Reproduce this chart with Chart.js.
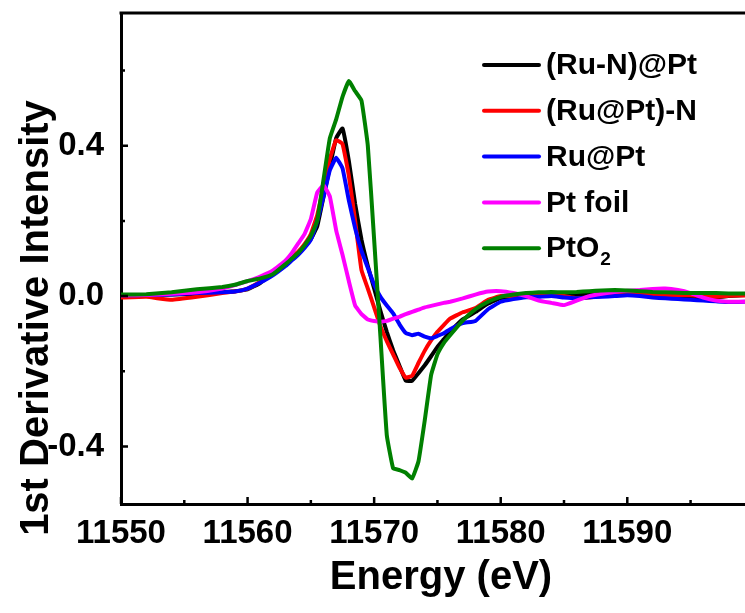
<!DOCTYPE html>
<html>
<head>
<meta charset="utf-8">
<script src="https://cdn.jsdelivr.net/npm/chart.js@4.4.1/dist/chart.umd.min.js"></script>
<style>
  html, body { margin: 0; padding: 0; background: #fff; }
  #chart-xanes { display: block; }
</style>
</head>
<body>
<canvas id="chart-xanes" width="745" height="613"></canvas>
<script>
// energía (eV), malla común para todas las curvas
const energia = [
  11550, 11552, 11554, 11556, 11558, 11559, 11560, 11561, 11562, 11563,
  11563.5, 11564, 11564.5, 11565, 11565.5, 11566, 11566.5, 11567, 11567.5, 11568,
  11568.5, 11569, 11569.5, 11570, 11570.5, 11571, 11571.5, 11572, 11572.5, 11573,
  11573.5, 11574, 11574.5, 11575, 11575.5, 11576, 11577, 11578, 11579, 11580,
  11581, 11582, 11583, 11584, 11585, 11586, 11587, 11588, 11589, 11590,
  11591, 11592, 11593, 11594, 11595, 11596, 11597, 11598, 11599.5
];
const ruNPt = [
  0.002, 0.003, 0.004, 0.006, 0.010, 0.013, 0.018, 0.035, 0.060, 0.085,
  0.100, 0.115, 0.132, 0.152, 0.185, 0.264, 0.344, 0.420, 0.446, 0.360,
  0.245, 0.150, 0.080, 0.020, -0.040, -0.095, -0.144, -0.185, -0.225, -0.225,
  -0.205, -0.184, -0.160, -0.135, -0.115, -0.095, -0.062, -0.042, -0.020, -0.005,
  -0.002, 0.000, 0.003, 0.005, 0.004, 0.003, 0.004, 0.006, 0.008, 0.010,
  0.008, 0.005, 0.003, 0.000, -0.002, -0.004, -0.003, 0.000, 0.003
];
const ruPtN = [
  -0.004, -0.002, -0.010, -0.002, 0.008, 0.012, 0.020, 0.038, 0.062, 0.088,
  0.103, 0.118, 0.138, 0.165, 0.215, 0.290, 0.365, 0.415, 0.405, 0.320,
  0.200, 0.069, 0.020, -0.030, -0.080, -0.120, -0.155, -0.190, -0.217, -0.212,
  -0.178, -0.145, -0.118, -0.095, -0.077, -0.060, -0.043, -0.032, -0.010, 0.000,
  0.000, -0.002, 0.002, 0.004, 0.000, -0.006, -0.004, 0.000, 0.004, 0.006,
  0.006, 0.004, 0.002, 0.003, 0.002, 0.000, -0.002, 0.001, 0.002
];
const ruPt = [
  0.002, 0.003, 0.004, 0.008, 0.010, 0.012, 0.020, 0.036, 0.055, 0.080,
  0.095, 0.110, 0.128, 0.150, 0.200, 0.264, 0.335, 0.368, 0.340, 0.255,
  0.180, 0.120, 0.075, 0.030, -0.002, -0.025, -0.046, -0.075, -0.098, -0.104,
  -0.100, -0.108, -0.112, -0.106, -0.099, -0.088, -0.072, -0.066, -0.035, -0.015,
  -0.008, -0.003, -0.002, 0.000, -0.004, -0.006, -0.003, -0.002, 0.000, 0.002,
  0.000, -0.004, -0.006, -0.008, -0.010, -0.012, -0.014, -0.016, -0.015
];
const ptFoil = [
  0.002, 0.003, 0.006, 0.010, 0.020, 0.029, 0.040, 0.052, 0.068, 0.095,
  0.115, 0.140, 0.165, 0.205, 0.275, 0.295, 0.265, 0.175, 0.110, 0.040,
  -0.025, -0.048, -0.062, -0.066, -0.068, -0.066, -0.060, -0.055, -0.048, -0.042,
  -0.036, -0.030, -0.026, -0.022, -0.018, -0.015, -0.006, 0.004, 0.012, 0.013,
  0.008, 0.000, -0.012, -0.018, -0.024, -0.012, 0.000, 0.006, 0.011, 0.014,
  0.016, 0.019, 0.020, 0.016, 0.008, -0.004, -0.012, -0.015, -0.015
];
const ptO2 = [
  0.004, 0.005, 0.010, 0.018, 0.024, 0.030, 0.040, 0.047, 0.058, 0.085,
  0.100, 0.115, 0.135, 0.160, 0.200, 0.310, 0.420, 0.470, 0.530, 0.572,
  0.545, 0.520, 0.400, 0.150, -0.110, -0.370, -0.458, -0.463, -0.470, -0.485,
  -0.440, -0.330, -0.210, -0.155, -0.125, -0.104, -0.065, -0.035, -0.015, -0.002,
  0.004, 0.008, 0.010, 0.011, 0.010, 0.011, 0.013, 0.015, 0.016, 0.015,
  0.013, 0.011, 0.010, 0.009, 0.008, 0.008, 0.008, 0.007, 0.007
];
const etiquetas = ["(Ru-N)@Pt", "(Ru@Pt)-N", "Ru@Pt", "Pt foil", "PtO\u2082"];
const colores = ["#000000", "#ff0000", "#0000ff", "#ff00ff", "#008000"];
const series = [ruNPt, ruPtN, ruPt, ptFoil, ptO2];
const ticksX = [11550, 11560, 11570, 11580, 11590];
const menoresX = [11555, 11565, 11575, 11585, 11595];
const ticksY = [-0.4, 0.0, 0.4];
const menoresY = [-0.2, 0.2, 0.6];

const FUENTE = '"Liberation Sans", Arial, sans-serif';

// texto con subíndice: "PtO₂" se dibuja como "PtO" + "2" más pequeño y bajado
function textoSub(ctx, txt, x, y, size) {
  const m = txt.match(/^(.*?)([\u2080-\u2089]+)$/);
  if (!m) { ctx.fillText(txt, x, y); return; }
  ctx.fillText(m[1], x, y);
  const w = ctx.measureText(m[1]).width;
  const sub = [...m[2]].map(c => String.fromCharCode(c.charCodeAt(0) - 0x2080 + 48)).join("");
  const prev = ctx.font;
  ctx.font = "bold " + Math.round(size * 0.62) + "px " + FUENTE;
  ctx.fillText(sub, x + w + 1, y + size * 0.36);
  ctx.font = prev;
}

// marco superior, marcas hacia dentro, leyenda y títulos de ejes
const decoracion = {
  id: "decoracion",
  afterDraw(chart) {
    const { ctx, chartArea: a, scales } = chart;
    const x = scales.x, y = scales.y;
    ctx.save();
    ctx.strokeStyle = "#000";
    ctx.lineWidth = 3;
    ctx.beginPath();
    ctx.moveTo(a.left - 1.5, a.top);
    ctx.lineTo(a.right, a.top);
    ctx.stroke();

    ctx.lineWidth = 2.5;
    ctx.beginPath();
    ticksX.forEach(v => { const px = x.getPixelForValue(v); ctx.moveTo(px, a.bottom); ctx.lineTo(px, a.bottom - 7); });
    menoresX.forEach(v => { const px = x.getPixelForValue(v); ctx.moveTo(px, a.bottom); ctx.lineTo(px, a.bottom - 4); });
    ticksY.forEach(v => { const py = y.getPixelForValue(v); ctx.moveTo(a.left, py); ctx.lineTo(a.left + 7, py); });
    menoresY.forEach(v => { const py = y.getPixelForValue(v); ctx.moveTo(a.left, py); ctx.lineTo(a.left + 4, py); });
    ctx.stroke();

    // leyenda
    const fs = 30;
    ctx.lineWidth = 4;
    ctx.lineCap = "round";
    ctx.textBaseline = "middle";
    ctx.textAlign = "left";
    ctx.font = "bold " + fs + "px " + FUENTE;
    chart.data.datasets.forEach((ds, i) => {
      const yy = 65 + i * 45.8;
      ctx.strokeStyle = ds.borderColor;
      ctx.beginPath();
      ctx.moveTo(484, yy);
      ctx.lineTo(539, yy);
      ctx.stroke();
      ctx.fillStyle = "#000";
      textoSub(ctx, ds.label, 546, yy + 1, fs);
    });

    // títulos
    ctx.fillStyle = "#000";
    ctx.font = "bold 40px " + FUENTE;
    ctx.textAlign = "center";
    ctx.fillText("Energy (eV)", 441, 578);
    ctx.translate(37, 318);
    ctx.rotate(-Math.PI / 2);
    ctx.fillText("1st Derivative Intensity", 0, 0);
    ctx.restore();
  }
};

const ctx = document.getElementById("chart-xanes").getContext("2d");
new Chart(ctx, {
  type: "line",
  data: {
    datasets: series.map((s, i) => ({
      label: etiquetas[i],
      data: s.map((v, k) => ({ x: energia[k], y: v })),
      borderColor: colores[i],
      borderWidth: 4,
      pointRadius: 0,
      tension: 0.1,
      fill: false,
      order: 5 - i
    }))
  },
  options: {
    responsive: false,
    animation: false,
    layout: { padding: { top: 13, left: 0, right: 0, bottom: 0 } },
    plugins: { legend: { display: false }, tooltip: { enabled: false } },
    scales: {
      x: {
        type: "linear",
        min: 11550,
        max: 11599.3,
        afterFit: s => { s.height = 109; s.paddingLeft = 0; s.paddingRight = 0; },
        grid: { display: false },
        border: { display: true, color: "#000", width: 3 },
        ticks: {
          stepSize: 10,
          includeBounds: false,
          autoSkip: false,
          maxRotation: 0,
          padding: 2,
          color: "#000",
          font: { family: FUENTE, size: 33, weight: "bold" },
          callback: v => String(v)
        }
      },
      y: {
        min: -0.553,
        max: 0.753,
        afterFit: s => { s.width = 121; s.paddingTop = 0; s.paddingBottom = 0; },
        grid: { display: false },
        border: { display: true, color: "#000", width: 3 },
        ticks: {
          stepSize: 0.4,
          includeBounds: false,
          padding: 9,
          color: "#000",
          font: { family: FUENTE, size: 33, weight: "bold" },
          callback: v => Number(v).toFixed(1)
        }
      }
    }
  },
  plugins: [decoracion]
});
</script>
</body>
</html>
